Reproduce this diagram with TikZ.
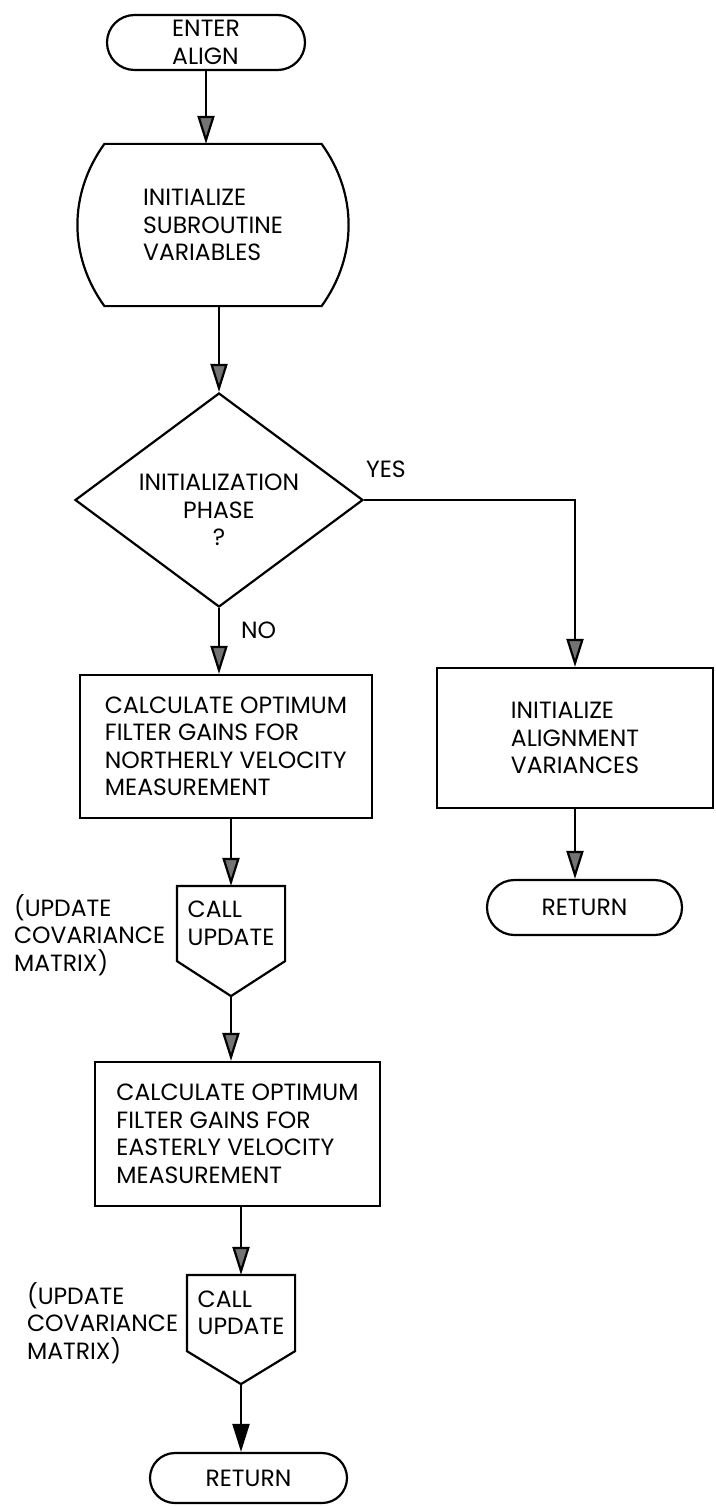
\documentclass[tikz,border=0pt]{standalone}
\usepackage{fontspec}
\setmainfont{Poppins}
\usetikzlibrary{shapes.geometric,shapes.misc,arrows.meta,calc}
\begin{document}
\begin{tikzpicture}[x=1pt,y=-1pt,
  line width=2.2pt,
  every node/.style={font=\fontsize{23.5}{27.5}\selectfont, align=left, inner sep=0pt},
  term/.style={rounded rectangle, draw, minimum height=55pt},
  proc/.style={rectangle, draw},
  flow/.style={-{Triangle[width=17pt,length=28pt,fill=black!55]}},
  lastflow/.style={-{Triangle[width=17pt,length=28pt,fill=black]}}
]
\useasboundingbox (0,0) rectangle (715,1506);

% entry terminal
\node[term, minimum width=198pt] (enter) at (206,42.5) {ENTER\\ALIGN};

% preparation block with curved sides
\node[minimum width=215pt, minimum height=160pt] (init) at (213,225) {INITIALIZE\\SUBROUTINE\\VARIABLES};
\draw (init.north west) -- (init.north east)
  .. controls +(36,50) and +(36,-50) .. (init.south east)
  -- (init.south west)
  .. controls +(-36,-50) and +(-36,50) .. (init.north west) -- cycle;

% decision
\node[diamond, draw, minimum width=288pt, minimum height=214pt] (dec) at (219,500) {};
\node[align=center] (dectext) at (219,510) {INITIALIZATION\\PHASE\\?};
\node (yes) at (386,469) {YES};
\node[anchor=west] (no) at (240,630) {NO};

% left branch
\node[proc, minimum width=292pt, minimum height=143pt] (box1) at (226,746.5)
  {CALCULATE OPTIMUM\\FILTER GAINS FOR\\NORTHERLY VELOCITY\\MEASUREMENT};

\node[minimum width=106pt, minimum height=73pt] (call1) at (231,923.5) {CALL\\UPDATE};
\draw (call1.north west) -- (call1.north east) -- (call1.south east)
  -- ($(call1.south)+(0,35)$) coordinate (tip1) -- (call1.south west) -- cycle;
\node[anchor=west] (note1) at (13,935) {(UPDATE\\COVARIANCE\\MATRIX)};

\node[proc, minimum width=285pt, minimum height=144pt] (box2) at (237.5,1134)
  {CALCULATE OPTIMUM\\FILTER GAINS FOR\\EASTERLY VELOCITY\\MEASUREMENT};

\node[minimum width=106pt, minimum height=74pt] (call2) at (241,1313) {CALL\\UPDATE};
\draw (call2.north west) -- (call2.north east) -- (call2.south east)
  -- ($(call2.south)+(0,33)$) coordinate (tip2) -- (call2.south west) -- cycle;
\node[anchor=west] (note2) at (26,1323) {(UPDATE\\COVARIANCE\\MATRIX)};

\node[term, minimum width=197pt, minimum height=50pt] (ret1) at (248.5,1478) {RETURN};

% right branch
\node[proc, minimum width=276pt, minimum height=140pt] (rbox) at (575,738)
  {INITIALIZE\\ALIGNMENT\\VARIANCES};
\node[term, minimum width=195pt] (ret2) at (584.5,907.5) {RETURN};

% connectors
\draw[flow] (enter.south) -- (enter.south |- init.north);
\draw[flow] (dec.north |- init.south) -- (dec.north);
\draw[flow] (dec.south) -- (dec.south |- box1.north);
\draw[flow] (dec.east) -| (rbox.north);
\draw[flow] (rbox.south) -- (rbox.south |- ret2.north);
\draw[flow] (call1.north |- box1.south) -- (call1.north);
\draw[flow] (tip1) -- (tip1 |- box2.north);
\draw[flow] (call2.north |- box2.south) -- (call2.north);
\draw[lastflow] (tip2) -- (tip2 |- ret1.north);
\end{tikzpicture}
\end{document}
